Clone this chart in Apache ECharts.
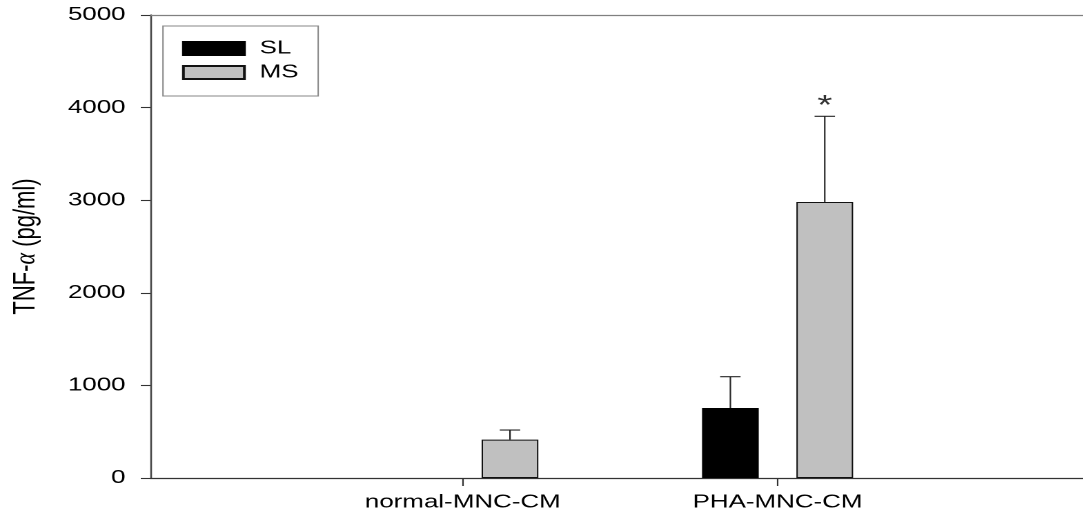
<!DOCTYPE html>
<html>
<head>
<meta charset="utf-8">
<script src="https://cdn.jsdelivr.net/npm/echarts@6/dist/echarts.min.js"></script>
<style>
  html, body { margin: 0; padding: 0; background: #fff; overflow: hidden; }
  #chart { width: 784.8px; height: 516px; transform: scaleX(1.38); transform-origin: 0 0; }
</style>
</head>
<body>
<div id="chart"></div>
<script>
// ---- data ----
const categories = ['normal-MNC-CM', 'PHA-MNC-CM'];
const seriesNames = ['SL', 'MS'];
const slMean = ['-', 756];
const slErr = ['-', 338];
const msMean = [415, 2981];
const msErr = [103, 925];
const msMark = ['', '*'];
const slMark = ['', ''];
const yTicks = [0, 1000, 2000, 3000, 4000, 5000];

// ---- style ----
const FONT = "'Liberation Sans', Arial, sans-serif";
const BAR_W = 41.1;
const BAR_GAP = 0.664;
const HALF_STEP = (BAR_W + BAR_W * BAR_GAP) / 2;
const CAP_HALF = 7.4;
const yMin = yTicks[0], yMax = yTicks[yTicks.length - 1], yStep = yTicks[1] - yTicks[0];

function errData(mean, err, mark) {
  return categories.map((c, i) => [i, mean[i], err[i], mark[i]]);
}

function errRender(offset) {
  return function (params, api) {
    const m = api.value(1), e = api.value(2);
    if (isNaN(m) || isNaN(e)) return null;
    const i = api.value(0);
    const base = api.coord([i, m]);
    const top = api.coord([i, m + e]);
    const x = base[0] + offset;
    const children = [
      { type: 'line', shape: { x1: x, y1: base[1], x2: x, y2: top[1] },
        style: { stroke: '#222', lineWidth: 1.1 } },
      { type: 'line', shape: { x1: x - CAP_HALF, y1: top[1], x2: x + CAP_HALF, y2: top[1] },
        style: { stroke: '#222', lineWidth: 1.1 } }
    ];
    const mark = api.value(3);
    if (mark && mark !== '-') {
      children.push({ type: 'text', x: x, y: top[1] - 10,
        style: { text: String(mark), fill: '#333', font: '28px ' + FONT, align: 'center', verticalAlign: 'middle' } });
    }
    return { type: 'group', children: children };
  };
}

const chart = echarts.init(document.getElementById('chart'), null, { renderer: 'canvas', devicePixelRatio: 2 });
chart.setOption({
  animation: false,
  backgroundColor: '#fff',
  textStyle: { fontFamily: FONT },
  grid: [
    { left: 221.3, right: 107.5, top: 15, bottom: 38 },
    { left: 107.2, right: 0, top: 15, bottom: 38 }
  ],
  legend: {
    data: seriesNames,
    orient: 'vertical',
    left: 118.1, top: 26,
    padding: [12.5, 14.3, 13.5, 13.8],
    itemWidth: 44.2, itemHeight: 13, itemGap: 4,
    icon: 'rect',
    borderColor: '#888', borderWidth: 1,
    textStyle: { fontSize: 18.8, lineHeight: 20, color: '#000', fontFamily: FONT, padding: [0, 0, 0, 6] }
  },
  xAxis: [
    { gridIndex: 0, type: 'category', data: categories, boundaryGap: true,
      axisLine: { show: false },
      axisTick: { show: true, alignWithLabel: true, length: 8, lineStyle: { color: '#333', width: 1.1 } },
      axisLabel: { fontSize: 18.8, color: '#000', margin: 15, fontFamily: FONT },
      splitLine: { show: false } },
    { gridIndex: 1, type: 'value', min: 0, max: 1, position: 'bottom',
      axisLine: { show: true, onZero: false, lineStyle: { color: '#333', width: 1.3 } },
      axisTick: { show: false }, axisLabel: { show: false }, splitLine: { show: false } },
    { gridIndex: 1, type: 'value', min: 0, max: 1, position: 'top',
      axisLine: { show: true, onZero: false, lineStyle: { color: '#808080', width: 1.3 } },
      axisTick: { show: false }, axisLabel: { show: false }, splitLine: { show: false } }
  ],
  yAxis: [
    { gridIndex: 0, type: 'value', min: yMin, max: yMax, interval: yStep, show: false },
    { gridIndex: 1, type: 'value', min: yMin, max: yMax, interval: yStep,
      axisLine: { show: true, onZero: false, lineStyle: { color: '#444', width: 1.3 } },
      axisTick: { show: true, inside: false, length: 7, lineStyle: { color: '#333', width: 1.1 } },
      axisLabel: { fontSize: 18.8, color: '#000', margin: 18, fontFamily: FONT,
        formatter: function (v) { return String(v); } },
      splitLine: { show: false },
      name: 'TNF-{a|α} (pg/ml)',
      nameLocation: 'middle', nameGap: 79,
      nameTextStyle: { fontSize: 22, color: '#000', fontFamily: FONT,
        rich: { a: { fontSize: 22, fontStyle: 'italic', fontFamily: "'Liberation Serif', serif", color: '#000' } } } }
  ],
  series: [
    { name: 'SL', type: 'bar', xAxisIndex: 0, yAxisIndex: 0, data: slMean,
      barWidth: BAR_W, barGap: (BAR_GAP * 100) + '%',
      itemStyle: { color: '#000', borderColor: '#000', borderWidth: 1 } },
    { name: 'MS', type: 'bar', xAxisIndex: 0, yAxisIndex: 0, data: msMean,
      barWidth: BAR_W, barGap: (BAR_GAP * 100) + '%',
      itemStyle: { color: '#c0c0c0', borderColor: '#111', borderWidth: 1 } },
    { name: 'SL error', type: 'custom', xAxisIndex: 0, yAxisIndex: 0, z: 5,
      data: errData(slMean, slErr, slMark), renderItem: errRender(-HALF_STEP) },
    { name: 'MS error', type: 'custom', xAxisIndex: 0, yAxisIndex: 0, z: 5,
      data: errData(msMean, msErr, msMark), renderItem: errRender(HALF_STEP) }
  ]
});
</script>
</body>
</html>
